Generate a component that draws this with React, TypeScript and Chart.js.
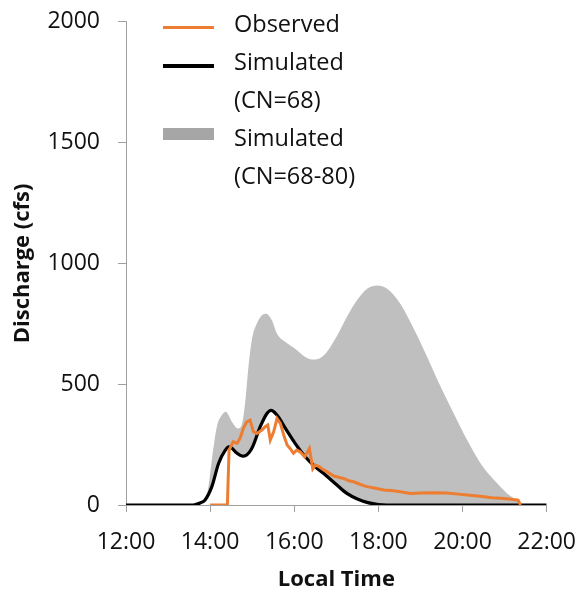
import { useEffect, useRef } from "react";
import Chart from "chart.js/auto";

// observed hydrograph (hours, cfs)
const obsTime = [
  14.0, 14.41, 14.45, 14.55, 14.64, 14.71, 14.79, 14.87, 14.95, 15.03, 15.11, 15.23,
  15.31, 15.37, 15.43, 15.51, 15.59, 15.67, 15.75, 15.83, 15.9, 15.98, 16.06, 16.14,
  16.25, 16.36, 16.44, 16.5, 16.58, 16.66, 16.8, 16.94, 17.05, 17.17, 17.3, 17.41,
  17.53, 17.65, 17.73, 17.9, 18.13, 18.3, 18.52, 18.76, 19.0, 19.32, 19.63, 19.9,
  20.11, 20.3, 20.51, 20.7, 20.9, 21.1, 21.25, 21.32, 21.38,
];
const obsFlow = [
  0, 0, 227, 262, 255, 276, 317, 344, 351, 303, 296, 310,
  324, 331, 269, 303, 358, 338, 289, 248, 234, 214, 227, 220,
  200, 234, 150, 165, 160, 150, 135, 120, 115, 110, 100, 96,
  88, 80, 76, 70, 62, 60, 55, 48, 50, 51, 50, 45,
  41, 38, 34, 30, 28, 25, 22, 20, 0,
];

// simulated, CN=68
const simTime = [
  12, 13.6, 13.76, 13.88, 14.04, 14.2, 14.36, 14.44, 14.52, 14.6, 14.79, 14.99,
  15.19, 15.35, 15.45, 15.59, 15.79, 16.02, 16.26, 16.5, 16.74, 17.0, 17.25, 17.5,
  17.75, 18.0, 18.2, 22,
];
const simFlow = [
  0, 0, 8, 21, 76, 172, 227, 241, 235, 220, 202, 234,
  324, 379, 392, 372, 317, 255, 200, 158, 124, 85, 48, 25,
  10, 2, 0, 0,
];

// simulated upper bound, CN=80
const upperTime = [
  12, 13.8, 13.88, 13.96, 14.04, 14.16, 14.28, 14.37, 14.52, 14.66, 14.75, 14.83,
  14.91, 14.99, 15.11, 15.23, 15.33, 15.47, 15.59, 15.79, 16.02, 16.26, 16.46, 16.62,
  16.8, 17.02, 17.25, 17.49, 17.73, 17.97, 18.21, 18.52, 18.84, 19.16, 19.48, 19.79,
  20.11, 20.43, 20.75, 21.06, 21.34, 21.45, 22,
];
const upperFlow = [
  0, 0, 21, 76, 186, 324, 372, 386, 344, 317, 331, 420,
  571, 682, 751, 785, 792, 764, 709, 675, 647, 613, 602, 608,
  640, 702, 778, 847, 895, 909, 895, 833, 730, 613, 489, 379,
  269, 172, 103, 48, 14, 0, 0,
];

const xTicks = [12, 14, 16, 18, 20, 22];
const legendLabels = ["Observed", "Simulated", "(CN=68)", "Simulated", "(CN=68-80)"];

const FONT = "'Open Sans', sans-serif";
const AXIS_GRAY = "#a0a0a0";

function toPoints(xs: number[], ys: number[]) {
  return xs.map((x, i) => ({ x, y: ys[i] }));
}

function Legend() {
  const swatch = (top: number, height: number, color: string) => (
    <div style={{ position: "absolute", left: 163, width: 51, top, height, background: color }} />
  );
  return (
    <div style={{ position: "absolute", left: 0, top: 0, pointerEvents: "none" }}>
      {swatch(26, 3, "#ED7D31")}
      {swatch(64, 3.5, "#000")}
      {swatch(128, 12, "#a6a6a6")}
      <div
        style={{
          position: "absolute",
          left: 234,
          top: 4,
          fontFamily: FONT,
          fontSize: 23.5,
          lineHeight: "38px",
          color: "#111",
          whiteSpace: "nowrap",
        }}
      >
        {legendLabels.map((l, i) => (
          <div key={i}>{l}</div>
        ))}
      </div>
    </div>
  );
}

export default function App() {
  const canvasRef = useRef<HTMLCanvasElement | null>(null);

  useEffect(() => {
    if (!canvasRef.current) return;

    const chart = new Chart(canvasRef.current, {
      type: "line",
      data: {
        datasets: [
          {
            label: "Observed",
            data: toPoints(obsTime, obsFlow),
            borderColor: "#ED7D31",
            borderWidth: 3,
            pointRadius: 0,
            tension: 0,
            fill: false,
          },
          {
            label: "Simulated (CN=68)",
            data: toPoints(simTime, simFlow),
            borderColor: "#000",
            borderWidth: 3.2,
            pointRadius: 0,
            cubicInterpolationMode: "monotone",
            fill: false,
          },
          {
            label: "Simulated (CN=68-80)",
            data: toPoints(upperTime, upperFlow),
            borderColor: "rgba(0,0,0,0)",
            borderWidth: 0,
            pointRadius: 0,
            cubicInterpolationMode: "monotone",
            fill: { target: "-1", above: "#bfbfbf", below: "rgba(0,0,0,0)" },
          },
        ],
      },
      options: {
        animation: false,
        responsive: false,
        layout: { padding: { top: 10, right: 24, left: 0, bottom: 0 } },
        plugins: { legend: { display: false }, tooltip: { enabled: false } },
        scales: {
          x: {
            type: "linear",
            min: 12,
            max: 22,
            afterFit: (s: any) => { s.height = 90; },
            afterBuildTicks: (s: any) => { s.ticks = xTicks.map((v) => ({ value: v })); },
            grid: { display: true, drawOnChartArea: false, drawTicks: true, tickLength: 7, color: AXIS_GRAY },
            border: { display: true, color: AXIS_GRAY, width: 1 },
            ticks: {
              padding: 17,
              color: "#111",
              font: { family: FONT, size: 23 },
              maxRotation: 0,
              callback: (v: any) => `${v}:00`,
            },
            title: {
              display: true,
              text: "Local Time",
              color: "#111",
              font: { family: FONT, size: 22, weight: "bold" },
              padding: { top: 0, bottom: 2 },
            },
          },
          y: {
            min: 0,
            max: 2000,
            afterFit: (s: any) => { s.width = 126; },
            grid: { display: true, drawOnChartArea: false, drawTicks: true, tickLength: 8, color: AXIS_GRAY },
            border: { display: true, color: AXIS_GRAY, width: 1 },
            ticks: {
              stepSize: 500,
              padding: 18,
              color: "#111",
              font: { family: FONT, size: 23 },
              callback: (v: any) => String(v),
            },
            title: {
              display: true,
              text: "Discharge (cfs)",
              color: "#111",
              font: { family: FONT, size: 22, weight: "bold" },
              padding: { top: 10, bottom: 0 },
            },
          },
        },
      },
    });

    return () => chart.destroy();
  }, []);

  // canvas is a bit larger than the window so the plot box lands where the reference has it
  return (
    <div style={{ position: "fixed", left: 0, top: 0, width: 580, height: 595, background: "#fff", overflow: "hidden" }}>
      <canvas ref={canvasRef} width={593} height={605} style={{ position: "absolute", left: 0, top: -10 }} />
      <Legend />
    </div>
  );
}
